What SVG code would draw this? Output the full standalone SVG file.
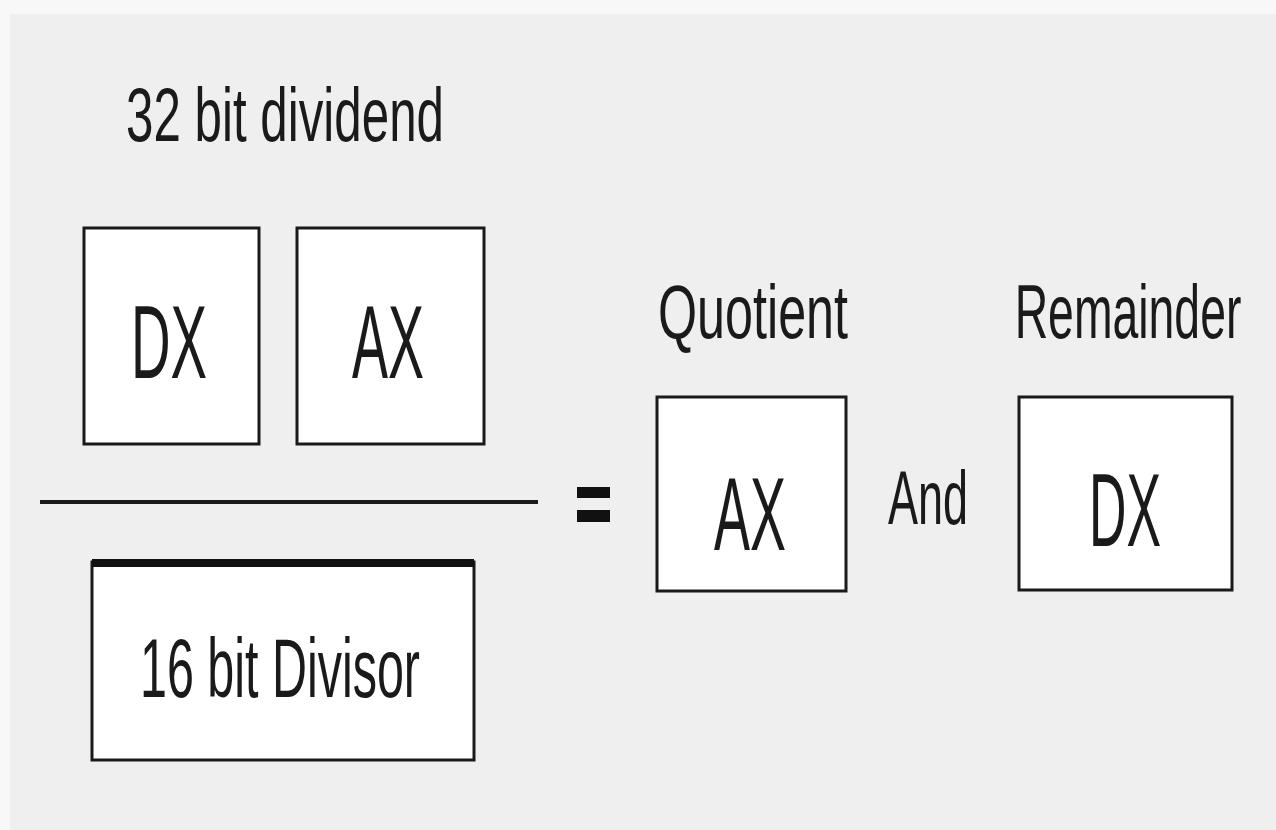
<svg xmlns="http://www.w3.org/2000/svg" width="1276" height="830" viewBox="0 0 1276 830">
<style>
.box{fill:#ffffff;stroke:#1a1a1a;stroke-width:3}
.t{font-family:"Liberation Sans","DejaVu Sans",sans-serif;fill:#1a1a1a;text-anchor:middle}
</style>
<rect x="0" y="0" width="1276" height="830" fill="#f8f8f8"/>
<rect x="10" y="14" width="1266" height="816" fill="#efefef"/>
<text class="t" x="285" y="141" font-size="76" textLength="318" lengthAdjust="spacingAndGlyphs">32 bit dividend</text>
<g id="dividend-dx">
<rect class="box" x="84" y="228" width="175" height="216"/>
<text class="t" x="169" y="378" font-size="104" textLength="76" lengthAdjust="spacingAndGlyphs">DX</text>
</g>
<g id="dividend-ax">
<rect class="box" x="297" y="228" width="187" height="216"/>
<text class="t" x="388" y="378" font-size="104" textLength="72" lengthAdjust="spacingAndGlyphs">AX</text>
</g>
<g id="connectors">
<line x1="40" y1="502" x2="538" y2="502" stroke="#1a1a1a" stroke-width="4"/>
<rect x="577" y="487" width="33" height="11" fill="#111"/>
<rect x="577" y="510" width="33" height="12" fill="#111"/>
</g>
<g id="divisor">
<rect class="box" x="92" y="562" width="382" height="198"/>
<line x1="92" y1="563" x2="474" y2="563" stroke="#111" stroke-width="8"/>
<text class="t" x="280" y="697" font-size="84" textLength="280" lengthAdjust="spacingAndGlyphs">16 bit Divisor</text>
</g>
<text class="t" x="753" y="338" font-size="76" textLength="190" lengthAdjust="spacingAndGlyphs">Quotient</text>
<text class="t" transform="translate(1128 338) scale(0.61 1)" x="0" y="0" font-size="76">Remainder</text>
<g id="quotient-ax">
<rect class="box" x="657" y="397" width="189" height="194"/>
<text class="t" x="750" y="550" font-size="104" textLength="72" lengthAdjust="spacingAndGlyphs">AX</text>
</g>
<text class="t" x="928" y="524" font-size="76" textLength="80" lengthAdjust="spacingAndGlyphs">And</text>
<g id="remainder-dx">
<rect class="box" x="1019" y="397" width="213" height="193"/>
<text class="t" x="1125" y="546" font-size="104" textLength="72" lengthAdjust="spacingAndGlyphs">DX</text>
</g>
</svg>
